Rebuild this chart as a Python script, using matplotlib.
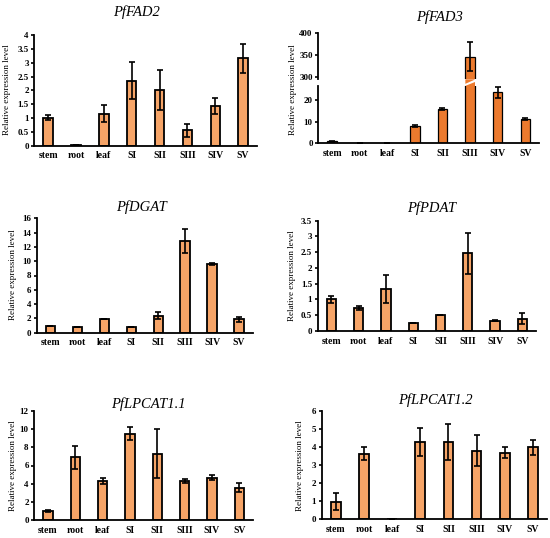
"""
Relative expression of six lipid genes across tissues / seed stages.
Six bar panels with error bars; PfFAD3 uses a broken y axis.
"""

import matplotlib

matplotlib.use("Agg")
import matplotlib.pyplot as plt
from matplotlib.patches import Polygon
from matplotlib.ticker import FuncFormatter

plt.rcParams["font.family"] = ["Liberation Serif", "DejaVu Serif"]

TISSUES = ["stem", "root", "leaf", "SI", "SII", "SIII", "SIV", "SV"]

FAD2 = [1.01, 0.02, 1.16, 2.35, 2.01, 0.55, 1.43, 3.16]
FAD2_ERR = [0.09, 0.0, 0.30, 0.67, 0.72, 0.25, 0.30, 0.52]

FAD3 = [0.9, 0.2, 0.2, 7.8, 15.6, 346.0, 23.5, 11.2]
FAD3_ERR = [0.15, 0.0, 0.0, 0.5, 0.4, 33.0, 2.5, 0.3]

DGAT = [0.98, 0.75, 1.87, 0.8, 2.38, 12.8, 9.6, 1.85]
DGAT_ERR = [0.0, 0.0, 0.0, 0.0, 0.45, 1.7, 0.2, 0.4]

PDAT = [1.0, 0.73, 1.34, 0.26, 0.52, 2.47, 0.33, 0.39]
PDAT_ERR = [0.11, 0.07, 0.45, 0.0, 0.0, 0.65, 0.02, 0.18]

LPCAT11 = [0.99, 6.9, 4.3, 9.5, 7.3, 4.3, 4.66, 3.56]
LPCAT11_ERR = [0.06, 1.3, 0.3, 0.7, 2.7, 0.25, 0.25, 0.5]

LPCAT12 = [0.98, 3.64, 0.04, 4.26, 4.28, 3.8, 3.69, 3.99]
LPCAT12_ERR = [0.45, 0.35, 0.0, 0.78, 1.0, 0.85, 0.3, 0.4]

LIGHT = "#F6A467"
DARK = "#EC7A2E"
W, H = 550, 538
BAR_W = 0.34


def px_axes(fig, left, top, right, bottom):
    return fig.add_axes([left / W, 1 - bottom / H, (right - left) / W, (bottom - top) / H])


def style_axes(ax, ylim, yticks):
    ax.set_xlim(-0.5, len(TISSUES) - 0.5)
    ax.set_ylim(*ylim)
    ax.set_yticks(yticks)
    ax.yaxis.set_major_formatter(FuncFormatter(lambda v, _: f"{v:g}"))
    for side in ("top", "right"):
        ax.spines[side].set_visible(False)
    for side in ("left", "bottom"):
        ax.spines[side].set_linewidth(1.3)
    ax.tick_params(axis="y", direction="out", length=2.5, width=1.2, pad=1.5, labelsize=6.5)
    ax.tick_params(axis="x", length=0, pad=4, labelsize=7)
    for lab in ax.get_yticklabels() + ax.get_xticklabels():
        lab.set_fontweight("bold")


def draw_bars(ax, vals, errs, color, edge_lw=1.3, clip=False):
    x = list(range(len(TISSUES)))
    ax.bar(x, vals, width=BAR_W, color=color, edgecolor="black", linewidth=edge_lw, zorder=2)
    ax.errorbar(x, vals, yerr=errs, fmt="none", ecolor="black", elinewidth=1.2,
                capsize=2.2, capthick=1.2, zorder=3, clip_on=clip)
    ax.set_xticks(x)
    ax.set_xticklabels(TISSUES)


def add_labels(fig, title, tx, ty, lx, ly):
    fig.text(tx / W, 1 - ty / H, title, ha="center", va="center", fontsize=10.5, style="italic")
    fig.text(lx / W, 1 - ly / H, "Relative expression level", ha="center", va="center",
             rotation=90, fontsize=6.5)


def simple_panel(fig, box, vals, errs, ylim, yticks, title, tpos, lpos):
    ax = px_axes(fig, *box)
    draw_bars(ax, vals, errs, LIGHT)
    style_axes(ax, ylim, yticks)
    add_labels(fig, title, *tpos, *lpos)
    return ax


def main() -> None:
    fig = plt.figure(figsize=(W / 100, H / 100), dpi=100)

    simple_panel(fig, (34.3, 35, 257, 145.7), FAD2, FAD2_ERR, (0, 4),
                 [0, 0.5, 1, 1.5, 2, 2.5, 3, 3.5, 4], "PfFAD2", (137, 12), (7, 90))
    simple_panel(fig, (36.7, 218.3, 252.5, 332.7), DGAT, DGAT_ERR, (0, 16),
                 list(range(0, 17, 2)), "PfDGAT", (141.7, 206.7), (13, 275))
    simple_panel(fig, (317.7, 220.7, 536, 331), PDAT, PDAT_ERR, (0, 3.5),
                 [0, 0.5, 1, 1.5, 2, 2.5, 3, 3.5], "PfPDAT", (431.7, 208), (292, 276))
    simple_panel(fig, (34.3, 411, 253, 520), LPCAT11, LPCAT11_ERR, (0, 12),
                 list(range(0, 13, 2)), "PfLPCAT1.1", (148, 404), (13, 466))
    simple_panel(fig, (321.7, 411, 547, 519.3), LPCAT12, LPCAT12_ERR, (0, 6),
                 list(range(0, 7)), "PfLPCAT1.2", (435, 400), (300, 466))

    # PfFAD3: broken y axis (lower 0-26, upper 295-400)
    ax_lo = px_axes(fig, 318.3, 86.3, 539, 143.3)
    ax_hi = px_axes(fig, 318.3, 33.3, 539, 79.3)
    draw_bars(ax_lo, FAD3, FAD3_ERR, DARK, edge_lw=0.9, clip=True)
    style_axes(ax_lo, (0, 26.2), [0, 10, 20])
    draw_bars(ax_hi, FAD3, FAD3_ERR, DARK, edge_lw=0.9, clip=True)
    style_axes(ax_hi, (295, 400), [300, 350, 400])
    ax_hi.spines["bottom"].set_visible(False)
    ax_hi.set_xticks([])

    # fill the gap of the tall bar, leaving a diagonal white slash
    i = FAD3.index(max(FAD3))
    to_fig = fig.transFigure.inverted()
    x0 = ax_lo.transData.transform((i - BAR_W / 2, 0))[0]
    x1 = ax_lo.transData.transform((i + BAR_W / 2, 0))[0]
    y_lo = ax_lo.transAxes.transform((0, 1))[1]
    y_hi = ax_hi.transAxes.transform((0, 0))[1]
    gap = y_hi - y_lo
    lower = [(x0, y_lo), (x1, y_lo), (x1, y_lo + 0.6 * gap), (x0, y_lo)]
    upper = [(x0, y_lo + 0.35 * gap), (x1, y_lo + 0.95 * gap), (x1, y_hi), (x0, y_hi)]
    for pts in (lower, upper):
        fig.patches.append(Polygon([to_fig.transform(p) for p in pts], closed=True,
                                   facecolor=DARK, edgecolor="none",
                                   transform=fig.transFigure, figure=fig))
    add_labels(fig, "PfFAD3", 440, 17, 293, 90)

    fig.savefig("out.png", dpi=100)
    plt.close(fig)


if __name__ == "__main__":
    main()
